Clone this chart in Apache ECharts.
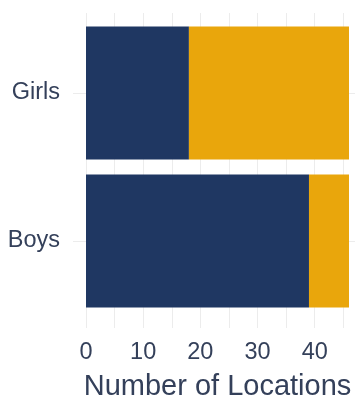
<!DOCTYPE html>
<html><head><meta charset="utf-8">
<script src="https://cdn.jsdelivr.net/npm/echarts@6/dist/echarts.min.js"></script>
<style>html,body{margin:0;padding:0;background:#fff}#c{width:355px;height:400px}</style>
</head><body><div id="c"></div>
<script>
const categories = ['Boys', 'Girls'];
const seriesNames = ['Yes', 'No'];
const navyValues = [39, 18];
const goldValues = [7, 28];
const xTicks = [0, 10, 20, 30, 40];

const FONT = '"Liberation Sans", Arial, sans-serif';
const TXT = '#34405a';
const GRID = '#ececec';

const chart = echarts.init(document.getElementById('c'), null, {renderer: 'canvas'});
chart.setOption({
  animation: false,
  backgroundColor: '#fff',
  grid: [
    {left: 86, right: 6, top: 19, bottom: 85, outerBoundsMode: 'none', containLabel: false},
    {left: 86, width: 257.3, top: 13, bottom: 72, outerBoundsMode: 'none', containLabel: false},
    {left: 73, right: 0, top: 93, height: 148, outerBoundsMode: 'none', containLabel: false}
  ],
  xAxis: [
    {gridIndex: 0, type: 'value', min: xTicks[0], max: 46, interval: 10,
     axisLine: {show: false}, axisTick: {show: false}, splitLine: {show: false},
     axisLabel: {showMaxLabel: false, fontSize: 23.5, color: TXT, fontFamily: FONT, margin: 26},
     name: 'Number of Locations', nameLocation: 'middle', nameGap: 57,
     nameTextStyle: {fontSize: 29, color: TXT, fontFamily: FONT}},
    {gridIndex: 1, type: 'value', min: 0, max: 45, interval: 5,
     axisLine: {show: false}, axisTick: {show: false}, axisLabel: {show: false},
     splitLine: {show: true, lineStyle: {color: GRID, width: 1}}},
    {gridIndex: 2, type: 'value', show: false}
  ],
  yAxis: [
    {gridIndex: 0, type: 'category', data: categories,
     axisLine: {show: false}, axisTick: {show: false}, splitLine: {show: false},
     axisLabel: {fontSize: 23.5, color: TXT, fontFamily: FONT, margin: 26}},
    {gridIndex: 1, type: 'value', show: false},
    {gridIndex: 2, type: 'category', data: categories, boundaryGap: false,
     axisLine: {show: false}, axisTick: {show: false}, axisLabel: {show: false},
     splitLine: {show: true, lineStyle: {color: GRID, width: 1}}}
  ],
  series: [
    {name: seriesNames[0], type: 'bar', stack: 's', xAxisIndex: 0, yAxisIndex: 0,
     data: navyValues, barWidth: '90%', itemStyle: {color: '#1f3762'}, z: 5},
    {name: seriesNames[1], type: 'bar', stack: 's', xAxisIndex: 0, yAxisIndex: 0,
     data: goldValues, barWidth: '90%', itemStyle: {color: '#e9a60c'}, z: 5}
  ]
});
</script></body></html>
